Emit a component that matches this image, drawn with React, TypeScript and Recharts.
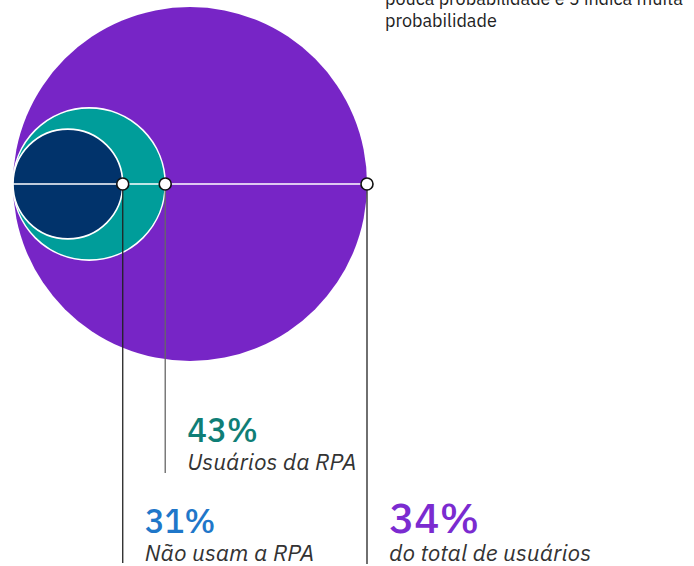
import { ScatterChart, Scatter, XAxis, YAxis, ZAxis, Cell } from 'recharts'

// circle diameters, as share of the total (100)
const circleKeys = ['total', 'usuarios', 'naoUsam']
const diameters = [100, 43, 31]

// callouts hanging from the right edge of each circle
const calloutValues = ['34%', '43%', '31%']
const calloutTexts = ['do total de usuários', 'Usuários da RPA', 'Não usam a RPA']

const noteLines = ['pouca probabilidade e 5 indica muita', 'probabilidade']

const circleColors = ['#7725c6', '#009d9a', '#01336b']
const valueColors = ['#7b2bd0', '#0f7e76', '#1f77c9']
const font = '"IBM Plex Sans", "Noto Sans", sans-serif'

const W = 694
const H = 566
const PLOT_W = 354
const R_MAX = PLOT_W / 2

const circles = circleKeys.map((k, i) => ({ key: k, x: diameters[i] / 2, y: 0, z: diameters[i] * diameters[i] }))
const edges = circleKeys.map((k, i) => ({ key: k, x: diameters[i], y: 0, idx: i }))
// horizontal diameter line through all circles
const baseLine = [{ x: 0, y: 0 }, { x: diameters[0], y: 0 }]

// per-callout leader length and text placement (pixels)
const leaderLen = [380, 289, 379]
const valueSize = [42, 33, 33]
const valueDy = [349, 258, 349]

function EdgeDot(props: any) {
  const { cx, cy, payload } = props
  const i = payload.idx
  return (
    <g>
      <line x1={cx} y1={cy} x2={cx} y2={cy + leaderLen[i]} stroke={i === 1 ? '#666' : '#222'} strokeWidth={1.3} />
      <circle cx={cx} cy={cy} r={6} fill="#fff" stroke="#111" strokeWidth={1.6} />
      <text x={cx + 22} y={cy + valueDy[i]} fill={valueColors[i]} fontSize={valueSize[i]} fontFamily={font} fontWeight={500}>
        {calloutValues[i]}
      </text>
      <text x={cx + 22} y={cy + valueDy[i] + 28} fill="#333" fontSize={23} fontStyle="italic" fontFamily={font}>
        {calloutTexts[i]}
      </text>
    </g>
  )
}

export default function App() {
  return (
    <div style={{ position: 'absolute', left: 0, top: 0, width: W, height: H, background: '#fff' }}>
      <ScatterChart width={W} height={H} margin={{ top: 7, right: W - 13 - PLOT_W, bottom: H - 7 - PLOT_W, left: 13 }}>
        <XAxis type="number" dataKey="x" domain={[0, 100]} hide />
        <YAxis type="number" dataKey="y" domain={[-50, 50]} hide />
        <ZAxis type="number" dataKey="z" domain={[0, 10000]} range={[0, Math.PI * R_MAX * R_MAX]} />
        <Scatter data={circles} shape="circle" stroke="#fff" strokeWidth={1.6} isAnimationActive={false}>
          {circles.map((c, i) => (
            <Cell key={c.key} fill={circleColors[i]} stroke={i === 0 ? 'none' : '#fff'} />
          ))}
        </Scatter>
        <Scatter data={baseLine} line={{ stroke: '#fff', strokeWidth: 1.5 }} shape={() => <g />} isAnimationActive={false} />
        <Scatter data={edges} shape={<EdgeDot />} isAnimationActive={false} />
      </ScatterChart>
      <svg width={W} height={40} style={{ position: 'absolute', left: 0, top: 0 }}>
        {noteLines.map((t, i) => (
          <text key={t} x={385} y={5 + i * 22} fontSize={18} fill="#222" fontFamily={font}>
            {t}
          </text>
        ))}
      </svg>
    </div>
  )
}
